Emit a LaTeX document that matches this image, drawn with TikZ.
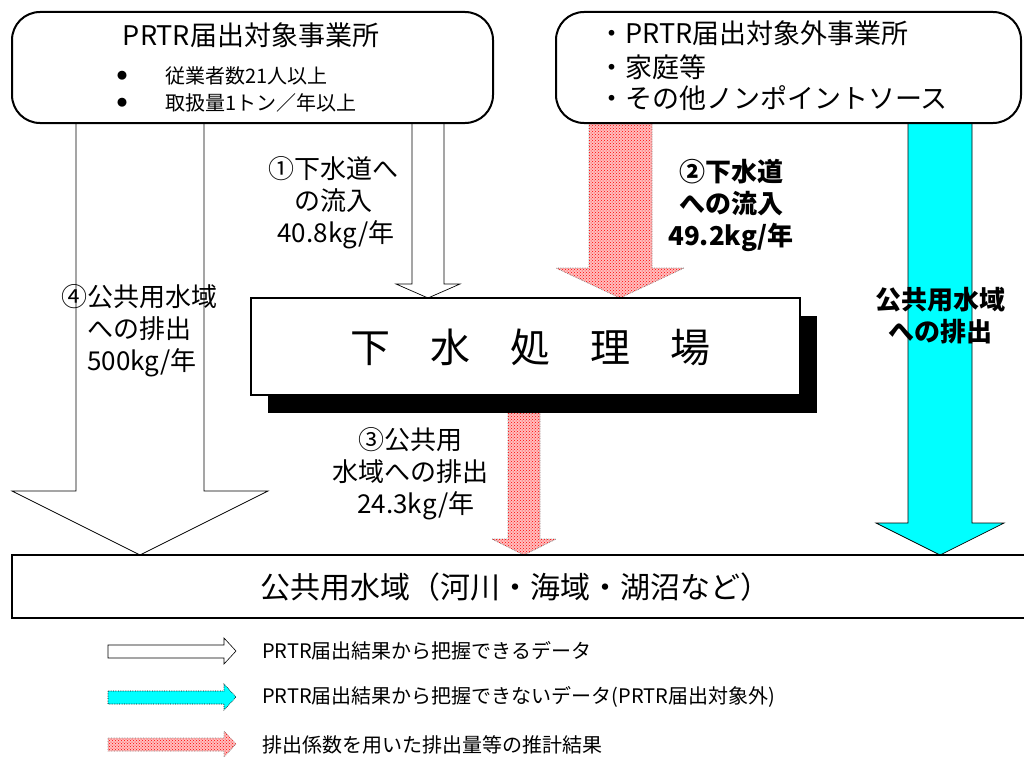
\documentclass[tikz,border=0pt]{standalone}
\usepackage{fontspec}
\setmainfont{Noto Sans CJK JP}
\usetikzlibrary{patterns}
\definecolor{pinkbase}{RGB}{255,190,190}
\definecolor{aqua}{RGB}{0,255,255}
\tikzset{
  whitearrow/.style={draw=black, line width=0.7, fill=white},
  cyanarrow/.style={draw=black, line width=0.7, fill=aqua},
  pinkarrow/.style={draw=gray, densely dotted, line width=0.7, fill=pinkbase, postaction={pattern=crosshatch dots, pattern color=red}},
  srcbox/.style={draw=black, line width=2, fill=white, rounded corners=28},
  lbl/.style={font=\fontsize{26}{32}\selectfont, align=center, inner sep=0},
  lblb/.style={lbl, font=\fontsize{26}{32}\selectfont\bfseries},
  legtxt/.style={font=\fontsize{20}{24}\selectfont, anchor=west, inner sep=0},
  bullet/.style={font=\fontsize{10}{12}\selectfont, inner sep=0},
}
\begin{document}
\begin{tikzpicture}[x=1pt,y=-1pt]
\useasboundingbox (0,0) rectangle (1024,760);
\fill[white] (0,0) rectangle (1024,760);

% arrows
\draw[whitearrow] (76,123) -- (76,491) -- (12,491) -- (140,555) -- (268,491) -- (204,491) -- (204,123) -- cycle;
\draw[whitearrow] (412,123) -- (412,284) -- (396,284) -- (428,298) -- (460,284) -- (444,284) -- (444,123) -- cycle;
\draw[pinkarrow] (589,123) -- (589,268) -- (556,268) -- (620,298) -- (684,268) -- (652,268) -- (652,123) -- cycle;
\draw[pinkarrow] (508,413) -- (508,539) -- (492,539) -- (524,555) -- (556,539) -- (540,539) -- (540,413) -- cycle;
\draw[cyanarrow] (908,123) -- (908,523) -- (876,523) -- (940,555) -- (1004,523) -- (972,523) -- (972,123) -- cycle;

% source boxes
\draw[srcbox] (12,12) rectangle (493,123);
\draw[srcbox] (556,12) rectangle (1021,123);
\node[font=\fontsize{27}{32}\selectfont, inner sep=0] (t1) at (251,35) {PRTR届出対象事業所};
\node[bullet] (b1) at (122,76) {●};
\node[bullet] (b2) at (122,103) {●};
\node[font=\fontsize{20}{24}\selectfont, anchor=west, inner sep=0] (c1) at (165,76) {従業者数21人以上};
\node[font=\fontsize{20}{24}\selectfont, anchor=west, inner sep=0] (c2) at (165,103) {取扱量1トン／年以上};
\node[font=\fontsize{27}{32}\selectfont, anchor=west, inner sep=0] (r1) at (598,33) {・PRTR届出対象外事業所};
\node[font=\fontsize{27}{32}\selectfont, anchor=west, inner sep=0] (r2) at (598,67) {・家庭等};
\node[font=\fontsize{27}{32}\selectfont, anchor=west, inner sep=0] (r3) at (598,98) {・その他ノンポイントソース};

% treatment plant
\fill[black] (268,316) rectangle (817,413);
\draw[line width=2.2, fill=white] (251,298) rectangle (800,395);
\node[font=\fontsize{40}{44}\selectfont, inner sep=0] (plant) at (530,347) {下　水　処　理　場};

% receiving water
\draw[line width=1.5, fill=white] (12,555) rectangle (1030,618);
\node[font=\fontsize{30}{34}\selectfont, inner sep=0] (water) at (515,587) {公共用水域（河川・海域・湖沼など）};

% labels
\node[lbl] (l1) at (333,203) {①下水道へ\\の流入\\\ 40.8kg/年};
\node[lblb] (l2) at (731,205) {②下水道\\への流入\\49.2kg/年};
\node[lbl, align=left, anchor=west] (l4) at (87,331) {\llap{④}公共用水域\\への排出\\500kg/年};
\node[lblb] (l5) at (940,316) {公共用水域\\への排出};
\node[lbl] (l3) at (410,474) {③公共用\\水域への排出\\\ \ 24.3kg/年};

% legend
\draw[whitearrow, line width=0.6] (108,645) -- (224,645) -- (224,638) -- (236,651) -- (224,664) -- (224,658) -- (108,658) -- cycle;
\draw[cyanarrow, densely dotted, line width=0.6] (108,691) -- (224,691) -- (224,684) -- (236,697) -- (224,710) -- (224,704) -- (108,704) -- cycle;
\draw[pinkarrow, line width=0.6] (108,738) -- (224,738) -- (224,731) -- (236,744) -- (224,757) -- (224,751) -- (108,751) -- cycle;
\node[legtxt] (g1) at (262,651) {PRTR届出結果から把握できるデータ};
\node[legtxt] (g2) at (262,697) {PRTR届出結果から把握できないデータ(PRTR届出対象外)};
\node[legtxt] (g3) at (262,745) {排出係数を用いた排出量等の推計結果};
\end{tikzpicture}
\end{document}
